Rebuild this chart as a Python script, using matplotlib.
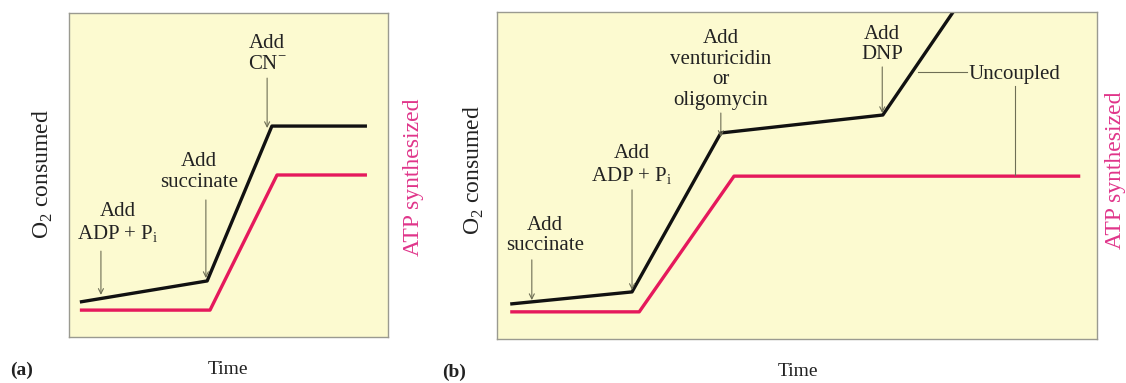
import matplotlib

matplotlib.use("Agg")
import matplotlib.pyplot as plt

# panel (a): O2 consumed (black) and ATP synthesized (red), arbitrary units 0-100
a_o2_t = [3.4, 43.3, 63.6, 93.4]
a_o2_v = [10.8, 17.3, 65.1, 65.1]
a_atp_t = [3.4, 44.2, 65.2, 93.4]
a_atp_v = [8.3, 8.3, 50.0, 50.0]

# panel (b)
b_o2_t = [2.2, 22.5, 37.3, 64.3, 77.5]
b_o2_v = [10.7, 14.4, 63.0, 68.5, 104.0]
b_atp_t = [2.2, 23.7, 39.5, 97.2]
b_atp_v = [8.3, 8.3, 49.8, 49.8]

# additions: (label, text x, text bottom y, arrow x, arrow tail y, arrow tip y)
a_adds = [
    ("Add\nADP + P$_\\mathregular{i}$", 15.4, 28.5, 10.0, 26.5, 13.0),
    ("Add\nsuccinate", 40.8, 44.8, 42.9, 42.3, 18.2),
    ("Add\nCN$^{\\mathregular{-}}$", 62.1, 81.2, 62.1, 79.9, 64.5),
]
b_adds = [
    ("Add\nsuccinate", 8.0, 25.6, 5.8, 24.2, 11.9),
    ("Add\nADP + P$_\\mathregular{i}$", 22.5, 46.5, 22.5, 45.6, 15.0),
    ("Add\nventuricidin\nor\noligomycin", 37.3, 70.0, 37.3, 69.1, 61.8),
    ("Add\nDNP", 64.2, 84.0, 64.2, 83.2, 69.1),
]

BG = "#FCFAD0"
RED = "#E5195C"
PINK = "#E0358A"
ARROW = "#6E6E55"
plt.rcParams["font.family"] = ["Liberation Serif", "DejaVu Serif"]
plt.rcParams["mathtext.fontset"] = "custom"
plt.rcParams["mathtext.rm"] = "Liberation Serif"


def setup(ax):
    ax.set_facecolor(BG)
    ax.set_xlim(0, 100)
    ax.set_ylim(0, 100)
    ax.set_xticks([])
    ax.set_yticks([])
    for s in ax.spines.values():
        s.set_color("#9A9A90")
        s.set_linewidth(1.0)


def draw_adds(ax, adds):
    for label, tx, ty, x, y0, y1 in adds:
        ax.text(tx, ty, label, ha="center", va="bottom", fontsize=15,
                linespacing=1.12, color="#222222")
        ax.annotate("", xy=(x, y1), xytext=(x, y0),
                    arrowprops=dict(arrowstyle="->", color=ARROW, lw=0.8,
                                    shrinkA=0, shrinkB=0, mutation_scale=9))


fig = plt.figure(figsize=(11.26, 3.83), dpi=100)
ax_a = fig.add_axes([0.0613, 0.1201, 0.2833, 0.846])
ax_b = fig.add_axes([0.4414, 0.1149, 0.5329, 0.8538])

for ax in (ax_a, ax_b):
    setup(ax)

ax_a.plot(a_o2_t, a_o2_v, color="#111111", lw=2.4, solid_joinstyle="round", solid_capstyle="butt")
ax_a.plot(a_atp_t, a_atp_v, color=RED, lw=2.4, solid_joinstyle="round", solid_capstyle="butt")
draw_adds(ax_a, a_adds)

ax_b.plot(b_o2_t, b_o2_v, color="#111111", lw=2.4, solid_joinstyle="round", solid_capstyle="butt")
ax_b.plot(b_atp_t, b_atp_v, color=RED, lw=2.4, solid_joinstyle="round", solid_capstyle="butt")
draw_adds(ax_b, b_adds)

# "Uncoupled" label with leader lines to both curves
ax_b.text(86.3, 81.0, "Uncoupled", ha="center", va="center", fontsize=15, color="#222222")
ax_b.plot([70.2, 78.3], [81.7, 81.7], color=ARROW, lw=0.8)
ax_b.plot([86.3, 86.3], [77.3, 50.2], color=ARROW, lw=0.8)

# axis labels as figure text
fig.text(43 / 1126, 1 - 174 / 383, "O$_\\mathregular{2}$ consumed", rotation=90,
         ha="center", va="center", fontsize=17, color="#222222")
fig.text(413 / 1126, 1 - 177 / 383, "ATP synthesized", rotation=90,
         ha="center", va="center", fontsize=17, color=PINK)
fig.text(474 / 1126, 1 - 170 / 383, "O$_\\mathregular{2}$ consumed", rotation=90,
         ha="center", va="center", fontsize=17, color="#222222")
fig.text(1116 / 1126, 1 - 170 / 383, "ATP synthesized", rotation=90,
         ha="center", va="center", fontsize=17, color=PINK)

fig.text(22 / 1126, 1 - 370 / 383, "(a)", ha="center", va="center", fontsize=14,
         fontweight="bold", color="#222222")
fig.text(454 / 1126, 1 - 372 / 383, "(b)", ha="center", va="center", fontsize=14,
         fontweight="bold", color="#222222")
fig.text(228 / 1126, 1 - 370 / 383, "Time", ha="center", va="center", fontsize=14, color="#222222")
fig.text(798 / 1126, 1 - 372 / 383, "Time", ha="center", va="center", fontsize=14, color="#222222")

fig.savefig("out.png", dpi=100)
plt.close(fig)
